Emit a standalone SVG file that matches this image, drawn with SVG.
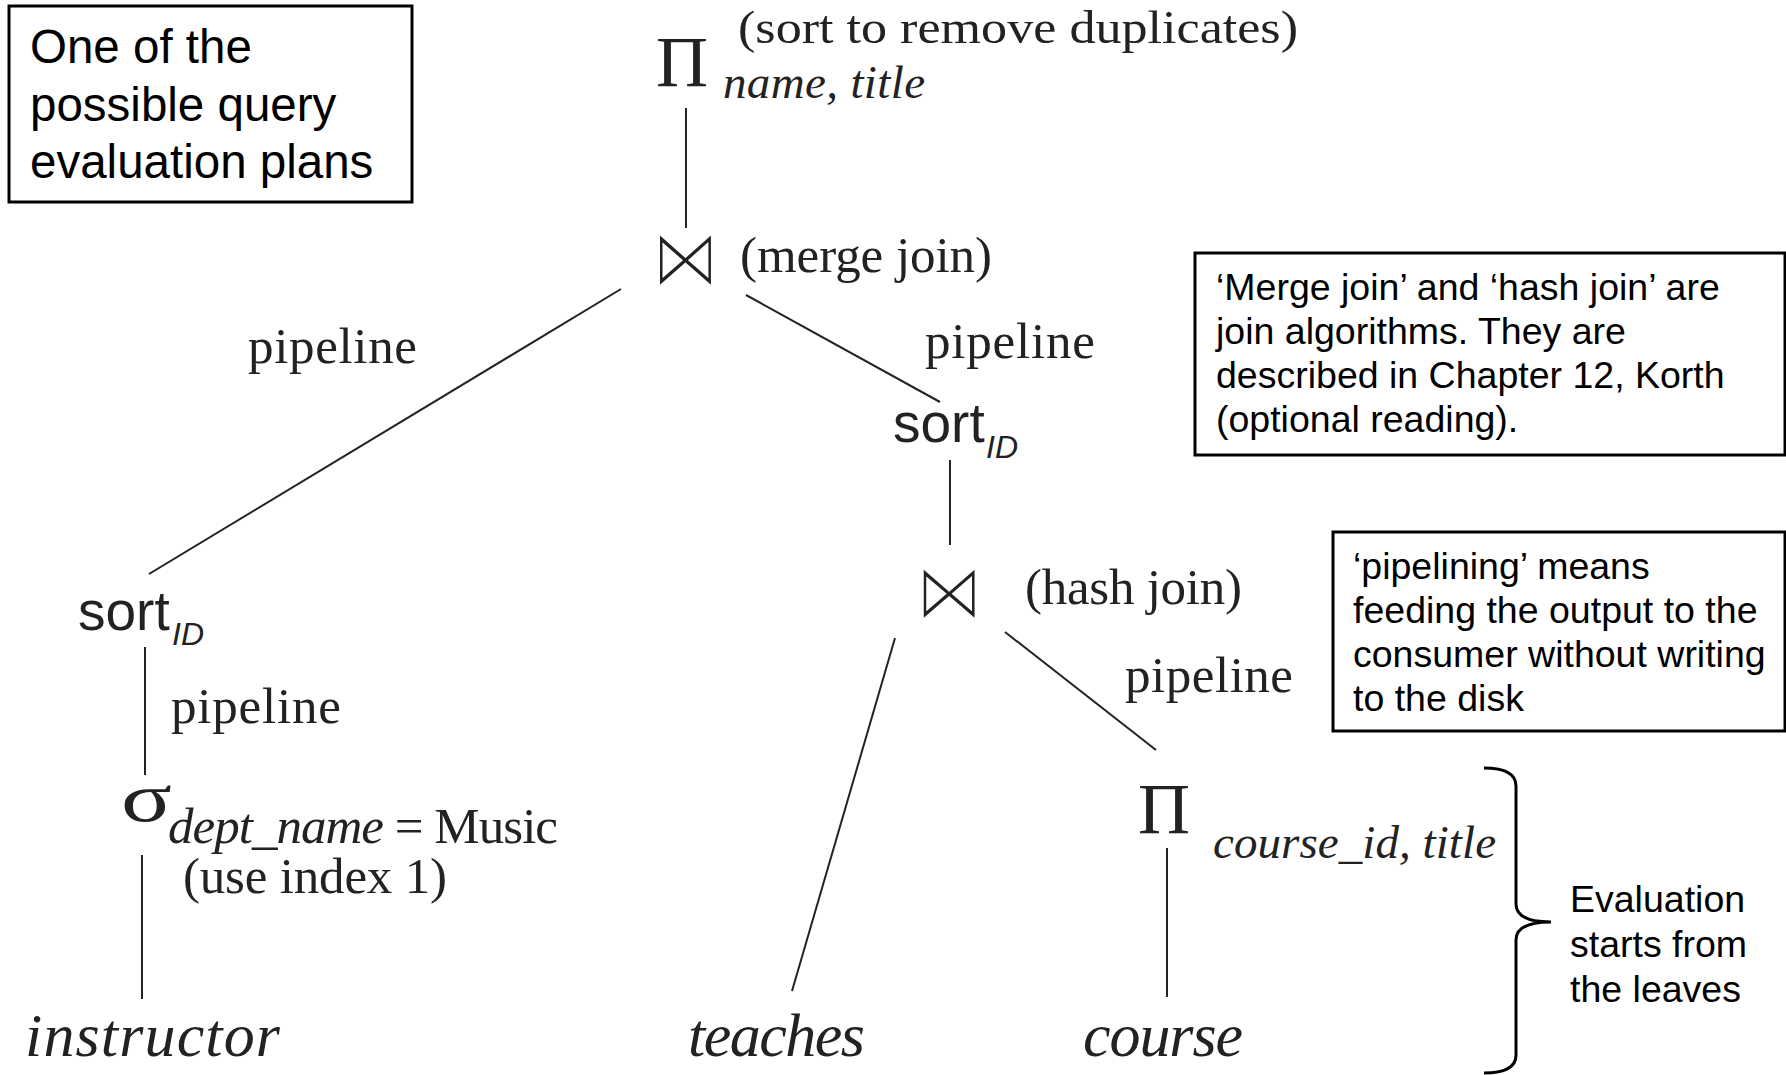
<svg xmlns="http://www.w3.org/2000/svg" width="1786" height="1075" viewBox="0 0 1786 1075">
<style>
.box{fill:#fff;stroke:#000;stroke-width:3}
.note{font-family:"Liberation Sans",Arial,sans-serif;font-size:37.5px;fill:#000}
.big{font-family:"Liberation Sans",Arial,sans-serif;font-size:47.5px;fill:#000}
.sf{font-family:"Liberation Serif","Times New Roman",serif;fill:#222;font-size:51px}
.it{font-style:italic}
.sub{font-family:"Liberation Serif","Times New Roman",serif;font-style:italic;fill:#222;font-size:47px}
.leaf{font-family:"Liberation Serif","Times New Roman",serif;font-style:italic;fill:#222;font-size:62px}
.op{font-family:"Liberation Serif","Times New Roman",serif;fill:#222;font-size:72px}
.bow{font-family:"DejaVu Sans",sans-serif;fill:#222;font-size:66px;stroke:#fff;stroke-width:3}
.srt{font-family:"Liberation Sans",Arial,sans-serif;fill:#222;font-size:55px}
.id{font-family:"Liberation Sans",Arial,sans-serif;font-style:italic;fill:#222;font-size:32px}
.edge{stroke:#222;stroke-width:2;fill:none}
.brace{stroke:#000;stroke-width:3;fill:none}
</style>
<rect width="1786" height="1075" fill="#fff"/>

<g id="note-plans">
<rect class="box" x="9" y="6" width="403" height="196"/>
<text class="big" x="30" y="63">One of the</text>
<text class="big" x="30" y="121">possible query</text>
<text class="big" x="30" y="178">evaluation plans</text>
</g>

<g id="note-joins">
<rect class="box" x="1195" y="253" width="590" height="202"/>
<text class="note" x="1216" y="300">‘Merge join’ and ‘hash join’ are</text>
<text class="note" x="1216" y="344">join algorithms. They are</text>
<text class="note" x="1216" y="388">described in Chapter 12, Korth</text>
<text class="note" x="1216" y="432">(optional reading).</text>
</g>

<g id="note-pipelining">
<rect class="box" x="1333" y="532" width="452" height="199"/>
<text class="note" x="1353" y="579">‘pipelining’ means</text>
<text class="note" x="1353" y="623">feeding the output to the</text>
<text class="note" x="1353" y="667">consumer without writing</text>
<text class="note" x="1353" y="711">to the disk</text>
</g>

<g id="connectors">
<line class="edge" x1="686" y1="108" x2="686" y2="228"/>
<line class="edge" x1="621" y1="289" x2="149" y2="574"/>
<line class="edge" x1="746" y1="295" x2="940" y2="402"/>
<line class="edge" x1="950" y1="460" x2="950" y2="545"/>
<line class="edge" x1="895" y1="638" x2="792" y2="991"/>
<line class="edge" x1="1005" y1="632" x2="1156" y2="750"/>
<line class="edge" x1="1167" y1="848" x2="1167" y2="997"/>
<line class="edge" x1="145" y1="647" x2="145" y2="775"/>
<line class="edge" x1="142" y1="855" x2="142" y2="999"/>
<text class="sf" x="248" y="363" textLength="169">pipeline</text>
<text class="sf" x="925" y="358" textLength="170">pipeline</text>
<text class="sf" x="171" y="723" textLength="170">pipeline</text>
<text class="sf" x="1125" y="692" textLength="168">pipeline</text>
</g>

<g id="node-project-top">
<text class="op" x="656" y="86">Π</text>
<text class="sub" x="723" y="98" textLength="202">name, title</text>
<text class="sf" x="738" y="43" style="font-size:47px" textLength="560" lengthAdjust="spacingAndGlyphs">(sort to remove duplicates)</text>
</g>

<g id="node-merge-join">
<text class="bow" transform="translate(651,286) scale(1.04,1.25)">⋈</text>
<text class="sf" x="740" y="272" textLength="252">(merge join)</text>
</g>

<g id="node-sort-right">
<text class="srt" x="893" y="442">sort</text>
<text class="id" x="986" y="458">ID</text>
</g>

<g id="node-hash-join">
<text class="bow" transform="translate(915,619) scale(1.04,1.22)">⋈</text>
<text class="sf" x="1025" y="604" textLength="217">(hash join)</text>
</g>

<g id="node-sort-left">
<text class="srt" x="78" y="630">sort</text>
<text class="id" x="172" y="645">ID</text>
</g>

<g id="node-select">
<text class="op" transform="translate(121,821) scale(1.35,1)" style="font-size:70px">σ</text>
<text class="sf" x="168" y="843" textLength="390"><tspan class="it">dept_name</tspan> = Music</text>
<text class="sf" x="183" y="893" textLength="264">(use index 1)</text>
</g>

<g id="node-project-course">
<text class="op" x="1138" y="833">Π</text>
<text class="sub" x="1213" y="858" textLength="283">course_id, title</text>
</g>

<g id="node-instructor">
<text class="leaf" x="25" y="1056" textLength="255">instructor</text>
</g>
<g id="node-teaches">
<text class="leaf" x="688" y="1056" textLength="177">teaches</text>
</g>
<g id="node-course">
<text class="leaf" x="1083" y="1056" textLength="160">course</text>
</g>

<g id="note-leaves">
<path class="brace" d="M1484,768 Q1516,768 1516,786 L1516,904 Q1516,922 1551,922 Q1516,922 1516,940 L1516,1055 Q1516,1073 1484,1073"/>
<text class="note" x="1570" y="912">Evaluation</text>
<text class="note" x="1570" y="957">starts from</text>
<text class="note" x="1570" y="1002">the leaves</text>
</g>
</svg>
